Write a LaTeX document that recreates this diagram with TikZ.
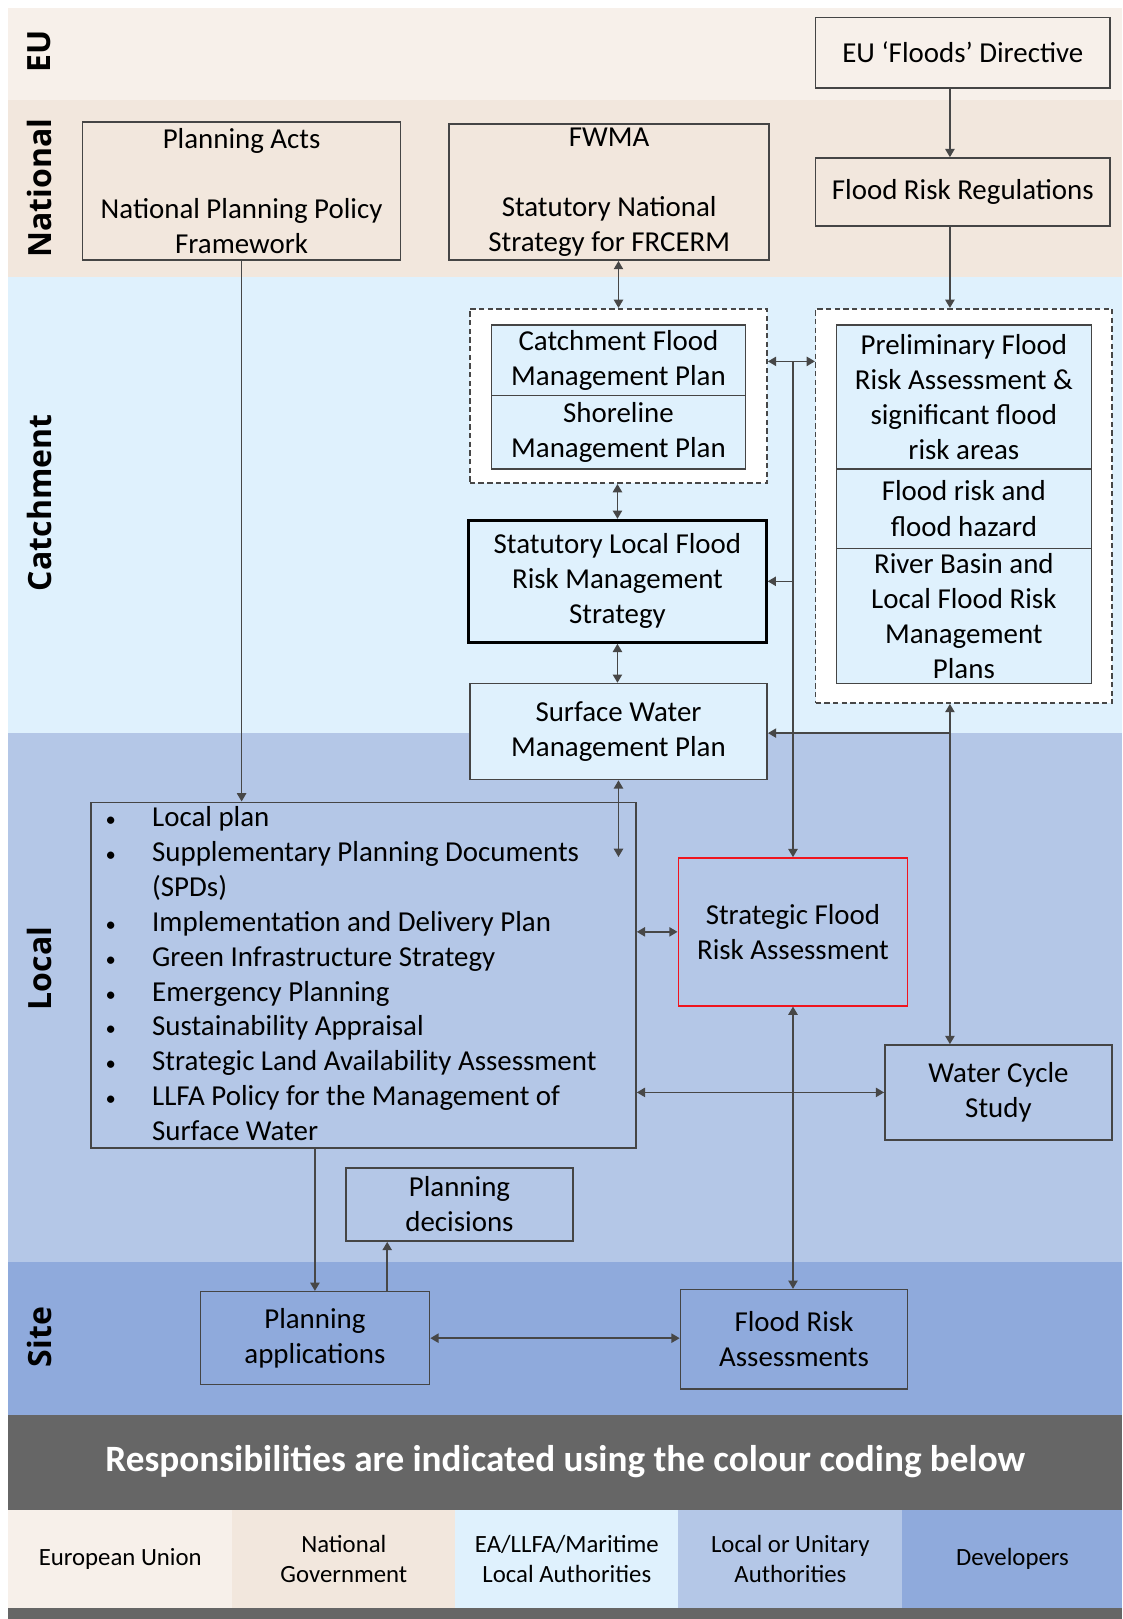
\documentclass[tikz,border=0pt]{standalone}
\usepackage{fontspec}
\setmainfont{Carlito}
\newfontfamily\bandfont{Open Sans}
\usepackage{tikz}
\usetikzlibrary{arrows.meta}

\definecolor{eucol}{HTML}{F7F0EA}
\definecolor{natcol}{HTML}{F2E7DD}
\definecolor{catcol}{HTML}{DFF1FD}
\definecolor{loccol}{HTML}{B4C7E7}
\definecolor{sitecol}{HTML}{8FAADC}
\definecolor{darkcol}{HTML}{666666}
\definecolor{boxcol}{HTML}{454545}
\definecolor{arrcol}{HTML}{474747}
\definecolor{sfracol}{HTML}{F0141E}

\newcommand{\bul}{\makebox[23.5pt][l]{\hspace{1pt}\fontsize{10}{10}\selectfont\textbullet}}

\begin{document}
\begin{tikzpicture}[x=0.5pt,y=-0.5pt]
		\useasboundingbox (0,0) rectangle (1087,1568);

		% bands
		\fill[eucol] (8,8) rectangle (1087,97);
		\fill[natcol] (8,97) rectangle (1087,268);
		\fill[catcol] (8,268) rectangle (1087,710);
		\fill[loccol] (8,710) rectangle (1087,1222);
		\fill[sitecol] (8,1222) rectangle (1087,1370);
		\fill[darkcol] (8,1557) rectangle (1087,1568);

		\begin{scope}[every node/.style={rotate=90,font=\bandfont\bfseries\fontsize{15.5}{18}\selectfont}]
			\node (lbEU) at (38,50) {EU};
			\node (lbNat) at (38,182) {National};
			\node (lbCat) at (38,487) {Catchment};
			\node (lbLoc) at (38,938) {Local};
			\node (lbSite) at (38,1295) {Site};
		\end{scope}

		\begin{scope}[every node/.style={draw=boxcol,line width=0.75pt,align=center,inner sep=0pt,
		              font=\fontsize{14}{17}\selectfont}]
			\node[fill=eucol,minimum width=142.5pt,minimum height=34pt] (eu) at (932.5,51) {EU ‘Floods’ Directive};
			\node[fill=natcol,minimum width=142.5pt,minimum height=33pt] (frr) at (932.5,186) {Flood Risk Regulations};
			\node[fill=natcol,minimum width=154pt,minimum height=67pt] (acts) at (234,185)
				{Planning Acts\\~\\National Planning Policy\\Framework};
			\node[fill=natcol,minimum width=155pt,minimum height=66pt] (fwma) at (590,186)
				{FWMA\\~\\Statutory National\\Strategy for FRCERM};

			\node[fill=white,draw=arrcol,dashed,dash pattern=on 2.6pt off 1.6pt,minimum width=144pt,minimum height=84.5pt] (dashL) at (599,383.5) {};
			\node[fill=catcol,minimum width=123pt,minimum height=34pt] (cfmp) at (599,349) {Catchment Flood\\Management Plan};
			\node[fill=catcol,minimum width=123pt,minimum height=35.5pt] (smp) at (599,418.5) {Shoreline\\Management Plan};

			\node[fill=white,draw=arrcol,dashed,dash pattern=on 2.6pt off 1.6pt,minimum width=143.5pt,minimum height=191pt] (dashR) at (933.5,490) {};
			\node[fill=catcol,minimum width=123.5pt,minimum height=69.5pt] (pfra) at (933.5,384.5)
				{Preliminary Flood\\Risk Assessment \&\\significant flood\\risk areas};
			\node[fill=catcol,minimum width=123.5pt,minimum height=38.5pt] (frh) at (933.5,492.5) {Flood risk and\\flood hazard};
			\node[fill=catcol,minimum width=123.5pt,minimum height=65.5pt] (rbmp) at (933.5,596.5)
				{River Basin and\\Local Flood Risk\\Management\\Plans};

			\node[fill=catcol,draw=black,line width=1.5pt,minimum width=144pt,minimum height=59pt] (lfrms) at (598,563)
				{Statutory Local Flood\\Risk Management\\Strategy};
			\node[fill=catcol,minimum width=144pt,minimum height=46.5pt] (swmp) at (599,708.5) {Surface Water\\Management Plan};

			\node[fill=loccol,minimum width=264pt,minimum height=167.5pt] (local) at (352,944.5) {};
			\node[fill=loccol,draw=sfracol,line width=0.8pt,minimum width=111pt,minimum height=71.5pt] (sfra) at (768,902.5)
				{Strategic Flood\\Risk Assessment};
			\node[fill=loccol,minimum width=110pt,minimum height=46pt] (wcs) at (967,1058) {Water Cycle\\Study};
			\node[fill=loccol,minimum width=110pt,minimum height=35.5pt] (pdec) at (445,1166.5) {Planning\\decisions};

			\node[fill=sitecol,minimum width=111pt,minimum height=45pt] (papp) at (305,1296) {Planning\\applications};
			\node[fill=sitecol,minimum width=110pt,minimum height=48pt] (fra) at (769,1297) {Flood Risk\\Assessments};
		\end{scope}

		% list in the local box
		\node[anchor=west,align=left,inner sep=0pt,font=\fontsize{14}{16.9}\selectfont] (localtxt) at (100,943)
			{\bul Local plan\\
			 \bul Supplementary Planning Documents\\
			 \hspace*{23.5pt}(SPDs)\\
			 \bul Implementation and Delivery Plan\\
			 \bul Green Infrastructure Strategy\\
			 \bul Emergency Planning\\
			 \bul Sustainability Appraisal\\
			 \bul Strategic Land Availability Assessment\\
			 \bul LLFA Policy for the Management of\\
			 \hspace*{23.5pt}Surface Water};

		\begin{scope}[>={Triangle[length=4pt,width=4.5pt]},
		              every edge/.style={draw=arrcol,line width=0.75pt}]
			\coordinate (jA) at (768,350);
			\coordinate (jB) at (920,710);
			\coordinate (swmpend) at (598,830);
			\coordinate (pd) at (375,1202);
			\path (eu.south -| jB) edge[->] (frr.north -| jB);
			\path (frr.south -| jB) edge[->] (dashR.north -| jB);
			\path (fwma.south -| dashL.north) edge[<->] (dashL.north);
			\path (acts.south) edge[->] (acts.south |- local.north);
			\path (lfrms.north |- dashL.south) edge[<->] (lfrms.north);
			\path (lfrms.south) edge[<->] (lfrms.south |- swmp.north);
			\path (swmp.south) edge[<->] (swmp.south |- swmpend);
			\path (dashL.east |- jA) edge[<->] (dashR.west |- jA);
			\path (jA) edge[->] (sfra.north);
			\path (jA |- lfrms.east) edge[->] (lfrms.east);
			\path (dashR.south -| jB) edge[<->] (wcs.north -| jB);
			\path (jB) edge[->] (swmp.east |- jB);
			\path (local.east |- sfra.west) edge[<->] (sfra.west);
			\path (local.east |- wcs.west) edge[<->] (wcs.west);
			\path (sfra.south) edge[<->] (sfra.south |- fra.north);
			\path (local.south -| papp.north) edge[->] (papp.north);
			\path (pd |- papp.north) edge[->] (pd |- pdec.south);
			\path (papp.east) edge[<->] (papp.east -| fra.west);
		\end{scope}

		% colour key
		\node[fill=darkcol,text=white,inner sep=0pt,minimum width=539.5pt,minimum height=46pt,
		      font=\bfseries\fontsize{18}{21}\selectfont] (resp) at (547.5,1416)
			{Responsibilities are indicated using the colour coding below};
		\begin{scope}[every node/.style={inner sep=0pt,minimum height=47.5pt,align=center,
		              font=\fontsize{12}{14.5}\selectfont}]
			\node[fill=eucol,minimum width=108.5pt] (key1) at (116.5,1509.5) {European Union};
			\node[fill=natcol,minimum width=108pt] (key2) at (333,1509.5) {National\\Government};
			\node[fill=catcol,minimum width=108pt] (key3) at (549,1509.5) {EA/LLFA/Maritime\\Local Authorities};
			\node[fill=loccol,minimum width=108.5pt] (key4) at (765.5,1509.5) {Local or Unitary\\Authorities};
			\node[fill=sitecol,minimum width=106.5pt] (key5) at (980.5,1509.5) {Developers};
		\end{scope}
\end{tikzpicture}
\end{document}
